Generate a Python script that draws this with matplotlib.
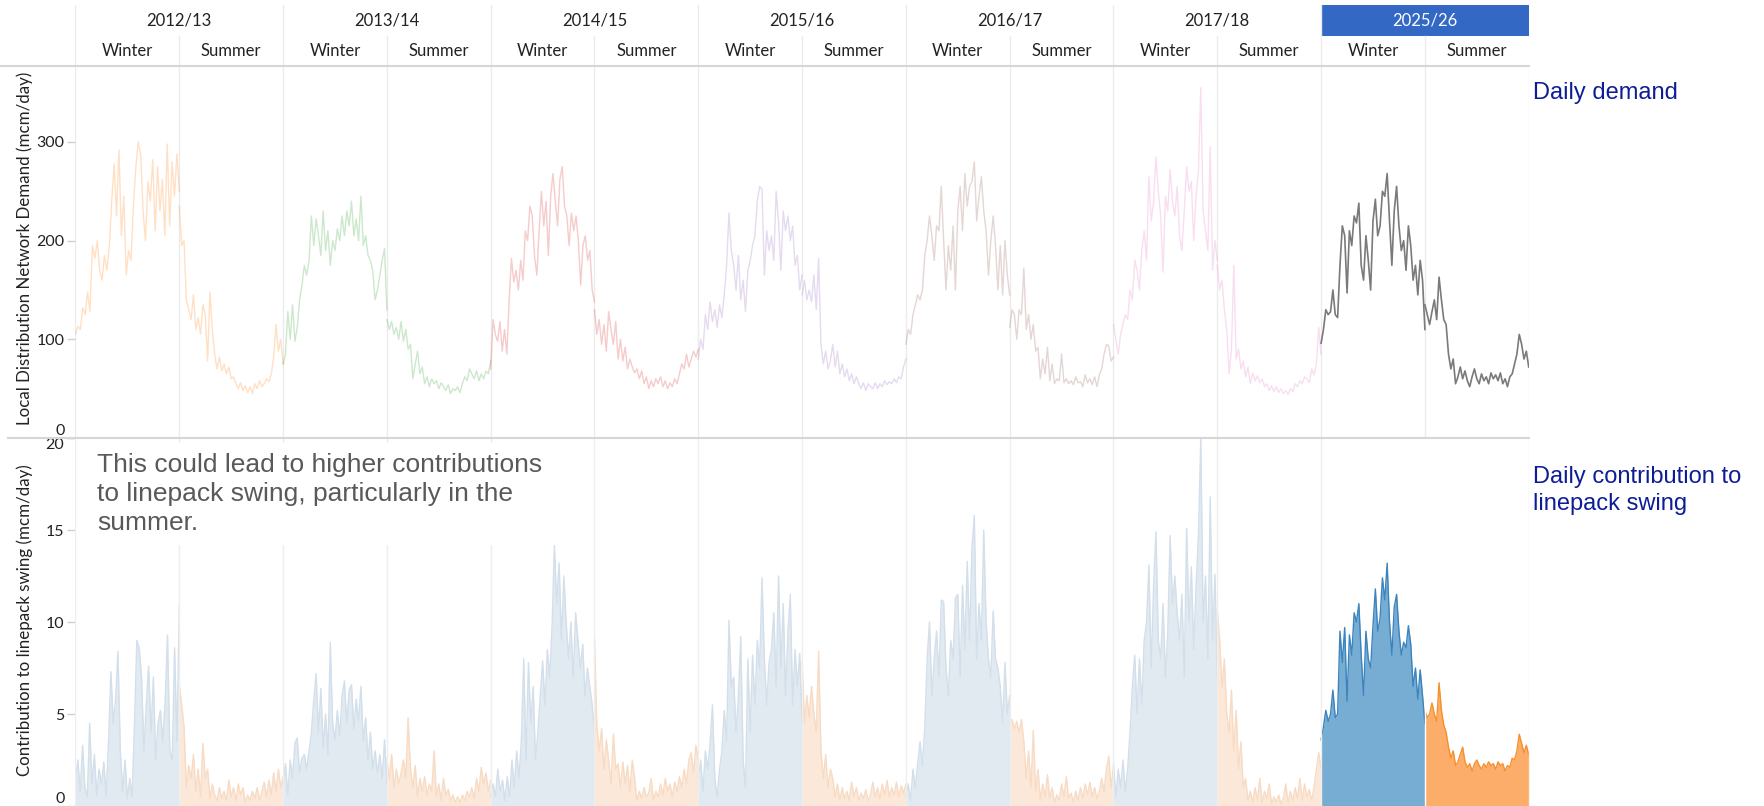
import matplotlib
matplotlib.use("Agg")
import matplotlib.pyplot as plt
import numpy as np
from matplotlib.lines import Line2D
from matplotlib.patches import Rectangle

plt.rcParams["font.family"] = ["Lato", "DejaVu Sans"]

# --- data (mcm/day) --------------------------------------------------------
YEARS = ["2012/13", "2013/14", "2014/15", "2015/16", "2016/17", "2017/18", "2025/26"]
SEASONS = ["Winter", "Summer"]

# Local distribution network demand
dem_1213_w = [105, 113, 110, 132, 125, 148, 128, 195, 182, 200, 170, 160, 185, 170, 194,
              240, 278, 225, 292, 205, 245, 165, 190, 180, 235, 275, 300, 288, 230, 200,
              260, 240, 282, 210, 275, 230, 262, 205, 298, 215, 280, 245, 288, 250]
dem_1213_s = [235, 195, 200, 140, 130, 120, 145, 110, 122, 105, 135, 125, 78, 148, 110,
              85, 70, 82, 68, 75, 65, 72, 60, 62, 55, 50, 56, 48, 53, 46,
              52, 45, 55, 50, 58, 52, 55, 60, 57, 65, 82, 115, 88, 100, 75]
dem_1314_w = [75, 85, 128, 100, 135, 98, 112, 140, 155, 175, 165, 180, 225, 195, 222,
              205, 185, 230, 190, 210, 175, 200, 190, 212, 200, 225, 205, 230, 215, 240,
              205, 222, 200, 245, 195, 205, 185, 180, 170, 140, 150, 165, 180, 192, 130]
dem_1314_s = [120, 110, 118, 105, 112, 100, 118, 98, 110, 90, 95, 60, 75, 88, 65,
              72, 55, 62, 52, 60, 55, 58, 50, 56, 52, 48, 54, 45, 50, 48,
              52, 46, 55, 62, 58, 70, 65, 60, 68, 58, 65, 60, 68, 65, 78]
dem_1415_w = [70, 120, 105, 98, 118, 88, 110, 85, 140, 182, 158, 170, 150, 180, 160,
              210, 200, 235, 225, 185, 165, 210, 250, 215, 240, 185, 245, 268, 240, 215,
              262, 275, 235, 225, 195, 228, 210, 225, 200, 155, 195, 205, 180, 190, 150, 138]
dem_1415_s = [130, 105, 120, 95, 115, 88, 128, 110, 95, 118, 80, 100, 78, 92, 70,
              80, 72, 66, 70, 60, 68, 55, 62, 50, 58, 52, 60, 55, 62, 52,
              58, 50, 56, 52, 60, 55, 65, 75, 70, 85, 72, 80, 88, 82, 90]
dem_1516_w = [80, 100, 90, 125, 110, 138, 118, 130, 112, 135, 122, 145, 175, 228, 190,
              175, 150, 185, 140, 160, 128, 170, 180, 195, 205, 240, 255, 252, 165, 210,
              190, 205, 180, 250, 220, 170, 230, 210, 225, 200, 215, 175, 185, 150, 165]
dem_1516_s = [145, 160, 140, 150, 138, 165, 130, 182, 95, 75, 88, 70, 78, 95, 72,
              88, 65, 75, 62, 70, 58, 65, 55, 62, 55, 50, 56, 48, 55, 52,
              50, 56, 50, 55, 52, 58, 54, 57, 55, 60, 56, 62, 60, 72, 80]
dem_1617_w = [95, 110, 105, 125, 135, 145, 140, 150, 185, 200, 225, 205, 180, 215, 210,
              255, 200, 150, 195, 170, 215, 150, 230, 255, 210, 268, 235, 255, 260, 280,
              220, 245, 265, 230, 210, 165, 200, 225, 195, 150, 195, 145, 200, 165, 145]
dem_1617_s = [112, 130, 125, 100, 130, 125, 172, 110, 125, 100, 115, 88, 92, 60, 80,
              65, 92, 58, 75, 55, 60, 58, 85, 56, 60, 55, 58, 54, 62, 56,
              57, 52, 64, 56, 60, 54, 62, 52, 64, 70, 85, 95, 93, 78, 82]
dem_1718_w = [115, 100, 85, 105, 115, 125, 120, 150, 140, 180, 170, 150, 190, 210, 180,
              265, 220, 240, 285, 250, 225, 168, 245, 230, 272, 240, 225, 255, 205, 190,
              230, 275, 250, 260, 200, 245, 270, 355, 230, 210, 190, 295, 170, 200, 180]
dem_1718_s = [175, 150, 160, 130, 110, 65, 90, 175, 80, 90, 70, 78, 62, 72, 55,
              66, 58, 63, 56, 60, 52, 55, 48, 53, 47, 52, 46, 50, 45, 48,
              44, 50, 47, 55, 52, 58, 55, 62, 60, 56, 70, 64, 75, 112, 85]
dem_2526_w = [96, 110, 130, 125, 128, 150, 125, 122, 175, 215, 205, 147, 210, 195, 225,
              218, 238, 175, 160, 205, 180, 150, 220, 242, 205, 215, 250, 245, 268, 220,
              175, 230, 255, 215, 190, 200, 170, 215, 195, 160, 175, 145, 180, 160, 110]
dem_2526_s = [135, 125, 115, 128, 140, 120, 163, 140, 120, 115, 85, 70, 80, 55, 62,
              72, 60, 68, 58, 52, 62, 70, 60, 55, 65, 58, 62, 55, 66, 60,
              64, 58, 66, 55, 60, 52, 62, 65, 75, 85, 105, 95, 80, 88, 72]

# Daily contribution to linepack swing
lps_1213_w = [1.5, 2.5, 0.8, 3.3, 1.0, 0.5, 4.5, 1.2, 2.8, 0.6, 2.0, 1.2, 2.4, 0.5, 3.5,
              7.3, 4.5, 5.8, 8.4, 3.0, 0.8, 2.5, 0.4, 1.5, 0.5, 4.5, 9.0, 8.6, 7.0, 3.0,
              5.5, 7.6, 4.0, 7.0, 2.5, 4.5, 5.2, 3.5, 5.7, 9.3, 3.0, 2.5, 8.6, 3.5, 10.9]
lps_1213_s = [6.6, 5.5, 4.3, 1.0, 2.2, 1.5, 2.8, 0.8, 2.0, 0.5, 3.4, 1.5, 2.0, 0.4, 1.2,
              0.6, 0.3, 1.0, 0.4, 0.8, 0.3, 1.4, 0.5, 1.0, 0.3, 1.2, 0.6, 1.0, 0.2, 0.6,
              0.3, 0.8, 0.4, 1.0, 0.3, 0.8, 1.3, 0.5, 1.4, 0.6, 1.8, 0.8, 2.0, 1.0, 1.6]
lps_1314_w = [1.2, 2.3, 0.6, 2.5, 1.5, 3.4, 3.7, 1.8, 2.6, 2.8, 2.0, 3.0, 4.0, 5.8, 7.2,
              4.0, 6.4, 3.2, 5.0, 2.8, 8.9, 4.5, 3.6, 5.2, 3.8, 6.0, 6.8, 4.5, 6.3, 6.6,
              4.2, 5.8, 4.6, 6.5, 3.5, 4.8, 2.5, 4.0, 2.0, 3.0, 1.8, 2.8, 1.5, 3.6, 1.2]
lps_1314_s = [2.6, 1.5, 2.8, 1.0, 2.0, 1.2, 1.8, 2.5, 1.5, 4.8, 2.0, 1.0, 2.2, 0.5, 1.5,
              0.8, 1.6, 0.6, 1.2, 0.8, 3.0, 0.5, 1.2, 0.3, 1.5, 0.6, 0.9, 0.3, 0.6, 0.2,
              0.5, 0.2, 0.6, 0.3, 0.8, 0.5, 1.0, 0.4, 1.5, 0.8, 2.1, 1.2, 1.8, 0.8, 1.4]
lps_1415_w = [0.5, 1.2, 0.5, 2.0, 0.8, 1.4, 0.3, 1.6, 0.5, 2.5, 1.0, 3.0, 1.5, 3.6, 8.0,
              2.5, 7.8, 4.5, 6.5, 2.5, 4.0, 6.0, 7.9, 5.5, 8.5, 7.0, 9.7, 14.2, 11.0, 13.2,
              9.0, 12.5, 10.0, 8.0, 10.0, 7.0, 10.5, 9.0, 7.5, 8.8, 6.0, 7.5, 6.5, 5.5, 4.0]
lps_1415_s = [9.1, 4.3, 3.0, 4.2, 2.0, 3.6, 2.5, 1.2, 3.9, 2.0, 2.3, 1.0, 2.4, 1.2, 2.2,
              0.8, 2.5, 1.5, 0.3, 0.8, 0.4, 1.0, 0.5, 0.7, 1.5, 0.3, 0.8, 0.5, 1.2, 0.6,
              1.5, 0.8, 1.2, 0.5, 1.3, 0.8, 1.6, 1.0, 2.0, 1.2, 2.5, 2.9, 1.8, 3.3, 2.5]
lps_1516_w = [1.5, 2.5, 0.8, 3.0, 2.0, 3.4, 5.5, 1.5, 0.5, 2.0, 3.0, 5.2, 3.5, 10.1, 6.5,
              7.0, 4.0, 6.0, 9.2, 2.5, 1.0, 8.0, 4.0, 8.2, 5.5, 9.0, 7.5, 12.4, 8.0, 5.5,
              7.8, 8.5, 10.5, 6.5, 12.5, 7.5, 11.0, 6.0, 9.5, 11.5, 5.5, 8.5, 6.5, 8.3, 4.5]
lps_1516_s = [7.8, 4.5, 6.0, 4.8, 6.5, 5.0, 4.0, 8.4, 3.0, 1.5, 2.8, 1.0, 2.0, 1.5, 0.5,
              1.2, 0.3, 1.0, 0.4, 0.8, 0.3, 1.3, 0.5, 1.0, 0.3, 0.7, 0.4, 0.9, 0.3, 0.6,
              1.3, 0.5, 1.0, 0.4, 1.2, 0.6, 1.4, 0.5, 1.0, 0.6, 1.3, 0.5, 1.1, 0.7, 1.2]
lps_1617_w = [0.5, 1.2, 0.3, 2.0, 1.0, 2.3, 3.5, 2.2, 4.3, 8.0, 10.0, 6.0, 8.0, 9.5, 7.0,
              11.2, 11.1, 7.5, 6.0, 9.0, 8.0, 11.3, 11.5, 7.0, 12.0, 8.5, 13.3, 9.0, 14.0, 15.8,
              8.0, 11.0, 9.0, 15.0, 10.0, 8.0, 7.0, 10.6, 8.0, 7.5, 6.5, 4.5, 7.8, 5.0, 6.0]
lps_1617_s = [4.5, 4.7, 4.2, 4.6, 4.0, 4.7, 3.5, 1.5, 3.0, 1.0, 4.1, 0.8, 2.0, 0.3, 1.2,
              0.5, 1.7, 0.4, 1.0, 0.2, 0.6, 0.3, 1.2, 0.5, 1.6, 0.4, 0.7, 0.2, 0.8, 0.3,
              1.0, 0.4, 1.2, 0.6, 1.3, 0.5, 1.0, 0.4, 0.8, 1.5, 0.8, 2.0, 2.7, 1.0, 2.2]
lps_1718_w = [2.3, 0.5, 2.0, 1.0, 2.5, 0.8, 2.0, 4.0, 6.5, 8.2, 5.0, 8.0, 5.5, 9.0, 10.0,
              13.1, 7.5, 12.0, 14.9, 9.0, 8.0, 11.0, 7.0, 9.5, 14.7, 11.0, 12.5, 10.5, 9.0, 11.5,
              7.0, 15.1, 10.0, 13.0, 8.5, 12.0, 14.7, 20.0, 10.0, 12.5, 8.0, 16.8, 9.0, 12.6, 7.0]
lps_1718_s = [10.7, 9.0, 6.5, 8.0, 5.0, 4.0, 6.3, 3.0, 5.2, 2.0, 3.5, 1.0, 1.5, 0.3, 0.8,
              0.2, 1.0, 0.3, 1.5, 0.2, 0.8, 0.4, 1.2, 0.1, 0.5, 0.2, 0.6, 0.1, 0.4, 1.2,
              0.2, 0.8, 0.3, 1.0, 0.4, 1.5, 0.3, 1.2, 0.5, 0.9, 0.3, 1.0, 2.0, 2.9, 2.0]
lps_2526_w = [3.6, 4.3, 5.2, 4.6, 5.0, 6.3, 4.8, 5.0, 9.5, 7.8, 9.7, 5.7, 9.3, 8.2, 10.5,
              10.0, 11.0, 8.2, 6.0, 9.5, 8.0, 7.5, 9.8, 11.8, 9.5, 10.2, 12.4, 11.2, 13.2, 10.0,
              8.2, 10.8, 11.5, 9.5, 8.2, 8.9, 8.6, 9.8, 8.8, 6.5, 7.5, 5.8, 7.4, 6.0, 4.5]
lps_2526_s = [5.2, 4.8, 5.0, 5.6, 5.0, 4.6, 6.7, 5.2, 4.4, 4.0, 3.2, 2.6, 3.0, 2.2, 2.4,
              2.8, 3.2, 2.4, 2.1, 2.3, 1.9, 2.3, 2.5, 2.2, 2.0, 2.3, 2.1, 2.4, 2.2, 2.3,
              2.0, 2.4, 2.2, 2.3, 1.9, 2.2, 2.1, 2.6, 2.5, 3.0, 3.9, 3.4, 2.9, 3.3, 2.8]

DEMAND = {
    "2012/13": (dem_1213_w, dem_1213_s), "2013/14": (dem_1314_w, dem_1314_s),
    "2014/15": (dem_1415_w, dem_1415_s), "2015/16": (dem_1516_w, dem_1516_s),
    "2016/17": (dem_1617_w, dem_1617_s), "2017/18": (dem_1718_w, dem_1718_s),
    "2025/26": (dem_2526_w, dem_2526_s),
}
SWING = {
    "2012/13": (lps_1213_w, lps_1213_s), "2013/14": (lps_1314_w, lps_1314_s),
    "2014/15": (lps_1415_w, lps_1415_s), "2015/16": (lps_1516_w, lps_1516_s),
    "2016/17": (lps_1617_w, lps_1617_s), "2017/18": (lps_1718_w, lps_1718_s),
    "2025/26": (lps_2526_w, lps_2526_s),
}

# --- style ----------------------------------------------------------------
YEAR_COLOUR = ["#ff7f0e", "#2ca02c", "#d62728", "#9467bd", "#8c564b", "#e377c2", "#7a7a7a"]
FILL_OLD = {"Winter": ("#e1e9f1", "#d3dfea"), "Summer": ("#fbe8d9", "#f7dbc4")}
FILL_NEW = {"Winter": ("#77acd3", "#3c84bd"), "Summer": ("#fdad6a", "#f68f2e")}
GRID = "#ebebeb"
TXT = "#222222"
NAVY = "#0d1d96"

W, H, DPI = 1765, 806, 100
X0, X1 = 75.5, 1528.7


def fx(px):
    return px / W


def fy(py):
    return 1 - py / H


fig = plt.figure(figsize=(W / DPI, H / DPI), dpi=DPI, facecolor="white")
ax_top = fig.add_axes([fx(X0), fy(438), fx(X1 - X0), (438 - 66) / H])
ax_bot = fig.add_axes([fx(X0), 0, fx(X1 - X0), (806 - 438) / H])
ax_hdr = fig.add_axes([fx(X0), fy(66), fx(X1 - X0), (66 - 5) / H])

n_cells = 2 * len(YEARS)
for k, year in enumerate(YEARS):
    latest = year == YEARS[-1]
    for j, season in enumerate(SEASONS):
        cell = 2 * k + j
        d = DEMAND[year][j]
        x = cell + np.linspace(0, 1, len(d))
        ax_top.plot(x, d, color=YEAR_COLOUR[k], lw=1.2 if latest else 1.0,
                    alpha=1.0 if latest else 0.24, zorder=2)

        c = SWING[year][j]
        x = cell + np.linspace(0, 1, len(c))
        fill, edge = (FILL_NEW if latest else FILL_OLD)[season]
        ax_bot.fill_between(x, 0, c, color=fill, lw=0, zorder=1)
        ax_bot.plot(x, c, color=edge, lw=1.0, zorder=2)

for ax in (ax_top, ax_bot):
    ax.set_xlim(0, n_cells)
    ax.set_xticks([])
    for sp in ax.spines.values():
        sp.set_visible(False)
    ax.tick_params(axis="y", length=6, width=1, color="#d0d0d0",
                   labelsize=11.5, labelcolor=TXT, pad=2)
    ax.patch.set_alpha(0)

for b in range(n_cells + 1):
    ax_top.axvline(b, color=GRID, lw=1, zorder=0)
    ax_bot.axvline(b, color="#eeeeee" if b != 13 else "white", lw=1, zorder=3)

ax_top.set_ylim(0, 377)
ax_top.set_yticks([0, 100, 200, 300])
ax_top.get_yticklabels()[0].set_va("bottom")

ax_bot.set_ylim(0, 20)
ax_bot.set_yticks([0, 5, 10, 15, 20])
ax_bot.get_yticklabels()[0].set_va("bottom")
ax_bot.get_yticklabels()[-1].set_va("top")

# annotation with white backing over the gridlines
ax_bot.add_patch(Rectangle((0.004, 0.709), 0.33, 0.277, transform=ax_bot.transAxes,
                           facecolor="white", edgecolor="none", zorder=3.5))
ax_bot.text(0.0148, 0.848,
            "This could lead to higher contributions\nto linepack swing, particularly in the\nsummer.",
            transform=ax_bot.transAxes, ha="left", va="center", fontsize=19,
            color="#595959", family="Liberation Sans", linespacing=1.25, zorder=5)

# header rows
ax_hdr.set_xlim(0, n_cells)
ax_hdr.set_ylim(0, 2)
ax_hdr.axis("off")
ax_hdr.add_patch(Rectangle((n_cells - 2, 1), 2, 1, facecolor="#3369c5", edgecolor="none"))
for k, year in enumerate(YEARS):
    ax_hdr.text(2 * k + 1, 1.5, year, ha="center", va="center", fontsize=12,
                color="white" if k == len(YEARS) - 1 else TXT)
    for j, season in enumerate(SEASONS):
        ax_hdr.text(2 * k + j + 0.5, 0.5, season, ha="center", va="center",
                    fontsize=12, color=TXT)
for b in range(0, n_cells, 2):
    ax_hdr.axvline(b, 0, 1, color=GRID, lw=1)
for b in range(1, n_cells + 1, 2):
    ax_hdr.axvline(b, 0, 0.5, color=GRID, lw=1)

# frame lines between header and panels
fig.add_artist(Line2D([fx(0), fx(X1)], [fy(66), fy(66)], color="#d6d6d6", lw=1.5))
fig.add_artist(Line2D([fx(8), fx(X1)], [fy(438), fy(438)], color="#d6d6d6", lw=1.5))

fig.text(fx(25), fy(248), "Local Distribution Network Demand (mcm/day)", rotation=90,
         ha="center", va="center", fontsize=12.2, color=TXT)
fig.text(fx(25), fy(620), "Contribution to linepack swing (mcm/day)", rotation=90,
         ha="center", va="center", fontsize=12.2, color=TXT)

fig.text(fx(1533), fy(93), "Daily demand", ha="left", va="center", fontsize=17,
         color=NAVY, family="Liberation Sans")
fig.text(fx(1533), fy(490.5), "Daily contribution to\nlinepack swing", ha="left",
         va="center", fontsize=17, color=NAVY, family="Liberation Sans", linespacing=1.3)

fig.savefig("out.png", dpi=DPI, facecolor="white")
